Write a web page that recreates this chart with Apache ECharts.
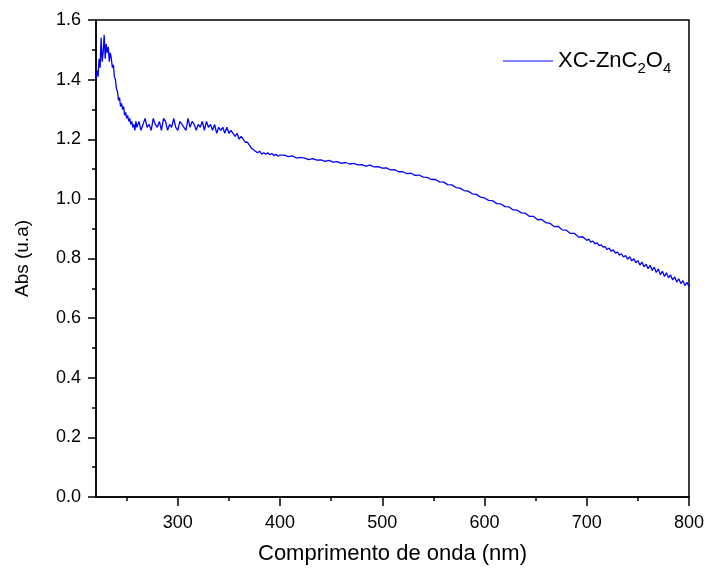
<!DOCTYPE html>
<html>
<head>
<meta charset="utf-8">
<script src="https://cdn.jsdelivr.net/npm/echarts@6/dist/echarts.min.js"></script>
<style>
html, body { margin: 0; padding: 0; background: #fff; }
#main { width: 707px; height: 570px; }
</style>
</head>
<body>
<div id="main"></div>
<script>
// comprimento de onda (nm) e absorbância
var wavelength = [
  220,221,222,223,224,225,226,227,228,229,230,231,232,233,234,235,236,237,238,239,
  240,241,242,243,244,245,246,247,248,249,250,251,252,253,254,255,256,257,258,259,260,
  262,264,266,268,270,272,274,276,278,280,282,284,286,288,290,292,294,296,298,300,
  302,304,306,308,310,312,314,316,318,320,322,324,326,328,330,332,334,336,338,340,
  342,344,346,348,350,352,354,356,358,360,362,364,366,368,370,372,374,376,378,380,
  382,384,386,388,390,392,394,396,398,400,
  404,408,412,416,420,424,428,432,436,440,444,448,452,456,460,464,468,472,476,480,
  484,488,492,496,500,504,508,512,516,520,524,528,532,536,540,544,548,552,556,560,
  564,568,572,576,580,584,588,592,596,600,604,608,612,616,620,624,628,632,636,640,
  644,648,652,656,660,664,668,672,676,680,684,688,692,696,700,
  702,704,706,708,710,712,714,716,718,720,722,724,726,728,730,732,734,736,738,740,
  742,744,746,748,750,752,754,756,758,760,762,764,766,768,770,772,774,776,778,780,
  782,784,786,788,790,792,794,796,798,800
];
var absorbance = [
  1.40,1.43,1.41,1.47,1.44,1.54,1.46,1.49,1.55,1.47,1.52,1.49,1.51,1.46,1.49,1.47,1.44,1.45,1.41,1.40,
  1.37,1.36,1.33,1.34,1.31,1.32,1.30,1.31,1.28,1.29,1.27,1.28,1.26,1.27,1.25,1.26,1.24,1.25,1.23,1.26,1.24,
  1.26,1.23,1.25,1.27,1.24,1.25,1.23,1.27,1.25,1.24,1.26,1.23,1.27,1.26,1.23,1.25,1.24,1.27,1.24,1.23,
  1.26,1.25,1.24,1.23,1.27,1.24,1.26,1.25,1.23,1.25,1.24,1.26,1.23,1.26,1.24,1.25,1.23,1.25,1.22,1.24,
  1.23,1.24,1.22,1.24,1.22,1.23,1.22,1.21,1.22,1.20,1.21,1.20,1.19,1.19,1.18,1.17,1.165,1.16,1.155,1.16,
  1.15,1.155,1.15,1.155,1.148,1.152,1.145,1.15,1.143,1.147,
  1.147,1.142,1.144,1.137,1.139,1.137,1.132,1.135,1.130,1.131,1.126,1.129,1.123,1.125,1.119,1.122,1.117,1.119,1.114,1.115,
  1.110,1.113,1.107,1.108,1.103,1.104,1.097,1.098,1.091,1.091,1.085,1.086,1.079,1.080,1.073,1.072,1.065,1.065,1.057,1.056,
  1.048,1.047,1.038,1.036,1.028,1.026,1.017,1.015,1.006,1.003,0.995,0.994,0.984,0.983,0.974,0.973,0.963,0.962,0.953,0.952,
  0.941,0.941,0.930,0.931,0.920,0.918,0.907,0.908,0.896,0.895,0.884,0.884,0.872,0.873,0.861,
  0.865,0.855,0.858,0.849,0.853,0.843,0.846,0.838,0.840,0.830,0.835,0.824,0.829,0.818,0.822,0.811,0.816,0.805,0.810,0.798,
  0.806,0.792,0.799,0.786,0.793,0.778,0.788,0.772,0.781,0.766,0.777,0.760,0.771,0.753,0.765,0.746,0.757,0.740,0.752,0.735,
  0.745,0.728,0.738,0.721,0.732,0.716,0.726,0.709,0.720,0.705
];
var xMajorTicks = [300, 400, 500, 600, 700, 800];
var xMinorTicks = [250, 350, 450, 550, 650, 750];

var font = 'Liberation Sans, Arial, sans-serif';
var myChart = echarts.init(document.getElementById('main'));

var points = [];
for (var i = 0; i < wavelength.length; i++) {
    points.push([wavelength[i], absorbance[i]]);
}

var option = {
    animation: false,
    backgroundColor: '#fff',
    grid: {
        left: 96, right: 15, top: 20, bottom: 72,
        show: true, borderColor: '#000', borderWidth: 1.5
    },
    legend: {
        left: 498, top: 45,
        itemWidth: 50, itemHeight: 1.2,
        icon: 'path://M0,0H50V1.2H0Z',
        data: ['XC-ZnC2O4'],
        formatter: function () { return 'XC-ZnC{s|2}O{s|4}'; },
        textStyle: {
            fontFamily: font, fontSize: 22, color: '#000',
            rich: { s: { fontFamily: font, fontSize: 15, verticalAlign: 'bottom', padding: [16, 0, 0, 0] } }
        }
    },
    xAxis: [{
        type: 'value', min: 220, max: 800,
        name: 'Comprimento de onda (nm)', nameLocation: 'middle', nameGap: 46,
        nameTextStyle: { fontFamily: font, fontSize: 22, color: '#000' },
        axisLine: { lineStyle: { color: '#000', width: 1.5 } },
        axisTick: { customValues: xMajorTicks, length: 9, lineStyle: { color: '#000', width: 1.5 } },
        axisLabel: { customValues: xMajorTicks, fontFamily: font, fontSize: 18, color: '#000', margin: 17 },
        splitLine: { show: false }
    }, {
        type: 'value', min: 220, max: 800, position: 'bottom',
        axisLine: { show: false },
        axisTick: { customValues: xMinorTicks, length: 4, lineStyle: { color: '#000', width: 1.5 } },
        axisLabel: { show: false },
        splitLine: { show: false }
    }],
    yAxis: {
        type: 'value', min: 0, max: 1.6, interval: 0.2,
        name: 'Abs (u.a)', nameLocation: 'middle', nameGap: 64,
        nameTextStyle: { fontFamily: font, fontSize: 19, color: '#000' },
        axisLine: { show: true, lineStyle: { color: '#000', width: 1.5 } },
        axisTick: { show: true, length: 8, lineStyle: { color: '#000', width: 1.5 } },
        minorTick: { show: true, splitNumber: 2, length: 4, lineStyle: { color: '#000', width: 1.5 } },
        axisLabel: {
            fontFamily: font, fontSize: 18, color: '#000', margin: 15,
            formatter: function (v) { return v.toFixed(1); }
        },
        splitLine: { show: false }
    },
    series: [{
        name: 'XC-ZnC2O4',
        type: 'line',
        xAxisIndex: 0,
        data: points,
        symbol: 'none',
        lineStyle: { color: '#0000ff', width: 1.3 },
        itemStyle: { color: '#0000ff' }
    }]
};

myChart.setOption(option);
</script>
</body>
</html>
